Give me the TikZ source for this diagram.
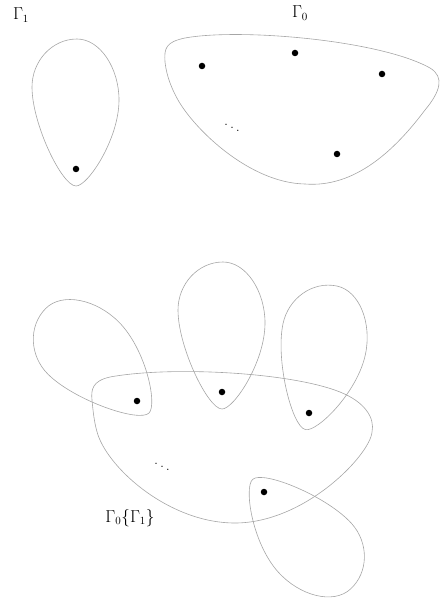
\documentclass[tikz,border=0pt]{standalone}
\begin{document}
\begin{tikzpicture}[x=1pt,y=-1pt,
  outline/.style={draw=black!35, line width=0.6pt},
  pt/.style={circle, fill=black, inner sep=0pt, minimum size=6.5pt},
  lbl/.style={font=\fontsize{16}{19}\selectfont, inner sep=0pt}]
\useasboundingbox (0,0) rectangle (441,601);
\newcommand\dropshape{(0,17) .. controls (12,17) and (43,-30) .. (43,-69) .. controls (43,-101) and (24,-130) .. (1,-130) .. controls (-24,-130) and (-44,-108) .. (-44,-82) .. controls (-44,-45) and (-14,17) .. cycle}
% ---------- top ----------
\node[lbl] (g1) at (21,15) {$\Gamma_1$};
\node[lbl] (g0) at (300,13) {$\Gamma_0$};
\draw[outline, shift={(76,169)}] \dropshape;
\node[pt] (a1) at (76,169) {};
\draw[outline] (165,62) .. controls (164,48) and (166,42) .. (185,38)
  .. controls (240,28) and (380,40) .. (430,68)
  .. controls (445,77) and (440,92) .. (425,110)
  .. controls (395,150) and (355,188) .. (305,184)
  .. controls (250,183) and (195,130) .. (178,100)
  .. controls (168,82) and (166,70) .. cycle;
\node[pt] (b1) at (202,66) {};
\node[pt] (b2) at (295,53) {};
\node[pt] (b3) at (382,74) {};
\node[pt] (b4) at (337,154) {};
\node[lbl] (bd) at (232,125) {$\ddots$};
% ---------- bottom ----------
\draw[outline] (92,400) .. controls (91,390) and (92,381) .. (110,377)
  .. controls (170,366) and (290,372) .. (340,392)
  .. controls (365,402) and (375,418) .. (372,432)
  .. controls (370,455) and (305,523) .. (235,523)
  .. controls (170,523) and (110,470) .. (98,435)
  .. controls (94,423) and (93,410) .. cycle;
\draw[outline, shift={(137,401)}, rotate=45] \dropshape;
\draw[outline, shift={(222,392)}] \dropshape;
\draw[outline, shift={(309,413)}, rotate=-12] \dropshape;
\draw[outline, shift={(264,492)}, rotate=-138] \dropshape;
\node[pt] (c1) at (137,401) {};
\node[pt] (c2) at (222,392) {};
\node[pt] (c3) at (309,413) {};
\node[pt] (c4) at (264,492) {};
\node[lbl] (cd) at (162,464) {$\ddots$};
\node[lbl] (cl) at (130,518) {$\Gamma_0\{\Gamma_1\}$};
\end{tikzpicture}
\end{document}
